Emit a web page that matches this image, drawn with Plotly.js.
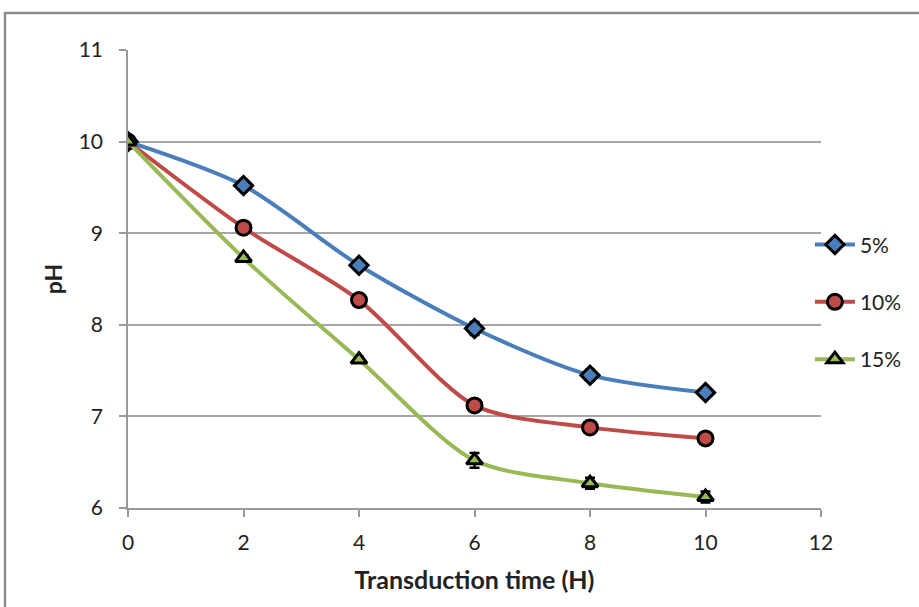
<!DOCTYPE html>
<html>
<head>
<script src="https://cdn.plot.ly/plotly-3.0.1.min.js"></script>
<style>body{margin:0;padding:0;background:#fff;} #chart{width:919px;height:607px;}</style>
</head>
<body>
<div id="chart"></div>
<script>
const time = [0, 2, 4, 6, 8, 10];
const ph5 = [10.0, 9.52, 8.65, 7.96, 7.45, 7.26];
const ph10 = [10.0, 9.06, 8.27, 7.12, 6.88, 6.76];
const ph15 = [10.0, 8.73, 7.62, 6.52, 6.27, 6.12];
const err5 = [0.02, 0.04, 0.04, 0.07, 0.06, 0.04];
const err10 = [0.02, 0.03, 0.04, 0.03, 0.07, 0.03];
const err15 = [0.02, 0.03, 0.03, 0.08, 0.06, 0.06];
const seriesNames = ['5%', '10%', '15%'];

const font = 'Lato, Carlito, Calibri, sans-serif';

function tr(y, err, name, color, symbol, size) {
  return {
    x: time, y: y, name: name, type: 'scatter', mode: 'lines+markers',
    legendgroup: name,
    line: {color: color, width: 4, shape: 'spline', smoothing: 0.8},
    marker: {symbol: symbol, size: size, color: color, line: {color: '#000', width: 3}},
    error_y: {type: 'data', array: err, visible: true, color: '#000', thickness: 2.5, width: 5}
  };
}

const data = [
  tr(ph5, err5, seriesNames[0], '#4a7ebb', 'diamond', 14),
  tr(ph10, err10, seriesNames[1], '#be4b48', 'circle', 15),
  tr(ph15, err15, seriesNames[2], '#98b954', 'triangle-up', 14)
];

const layout = {
  width: 919, height: 607,
  margin: {l: 128, r: 98, t: 50, b: 99},
  paper_bgcolor: '#fff', plot_bgcolor: '#fff',
  font: {family: font, size: 18, color: '#222'},
  xaxis: {
    range: [0, 12], tickvals: [0, 2, 4, 6, 8, 10, 12],
    showgrid: false, zeroline: false,
    showline: true, linecolor: '#999', linewidth: 1.5,
    ticks: 'outside', ticklen: 7, tickcolor: '#999', tickwidth: 1.5,
    ticklabelstandoff: 8,
    tickfont: {family: font, size: 21, color: '#222'},
    title: {text: '<b>Transduction time (H)</b>', font: {family: font, size: 25, color: '#222'}, standoff: 19}
  },
  yaxis: {
    range: [6, 11], tickvals: [6, 7, 8, 9, 10, 11],
    showgrid: true, gridcolor: '#a6a6a6', gridwidth: 1.5,
    zeroline: false,
    showline: true, linecolor: '#999', linewidth: 1.5,
    ticks: 'outside', ticklen: 7, tickcolor: '#999', tickwidth: 1.5,
    ticklabelstandoff: 12,
    tickfont: {family: font, size: 21, color: '#222'},
    title: {text: '<b>pH</b>', font: {family: font, size: 23, color: '#222'}, standoff: 10}
  },
  showlegend: true,
  legend: {
    x: 0.984, xanchor: 'left', y: 0.45, yanchor: 'middle',
    font: {family: font, size: 21, color: '#222'},
    traceorder: 'grouped', tracegroupgap: 27,
    bgcolor: 'rgba(0,0,0,0)', itemwidth: 40, borderwidth: 0
  },
  shapes: [{
    type: 'rect', xref: 'paper', yref: 'paper',
    x0: -0.1775, x1: 1.2, y0: -0.3, y1: 1.081,
    line: {color: '#8c8c8c', width: 2.5}, fillcolor: 'rgba(0,0,0,0)', layer: 'below'
  }]
};

Plotly.newPlot('chart', data, layout, {displayModeBar: false});
</script>
</body>
</html>
